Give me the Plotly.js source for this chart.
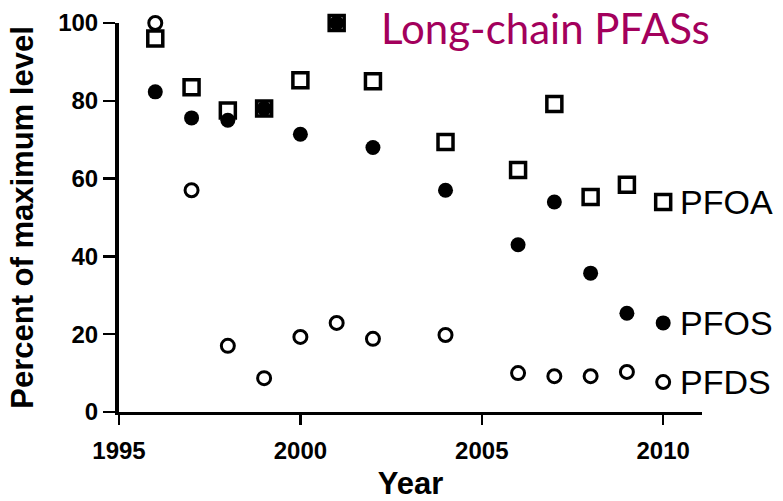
<!DOCTYPE html>
<html>
<head>
<meta charset="utf-8">
<script src="https://cdn.plot.ly/plotly-3.0.1.min.js"></script>
<style>html,body{margin:0;padding:0;background:#fff;}#chart{width:783px;height:501px;}</style>
</head>
<body>
<div id="chart"></div>
<script>
// Data
const yearsPFOA = [1996, 1997, 1998, 1999, 2000, 2001, 2002, 2004, 2006, 2007, 2008, 2009, 2010];
const pfoa      = [96,   83.5, 77.5, 78,   85.3, 100,  85,   69.4, 62.2, 79.2, 55.3, 58.4, 54];
const yearsPFOS = [1996, 1997, 1998, 1999, 2000, 2001, 2002, 2004, 2006, 2007, 2008, 2009, 2010];
const pfos      = [82.3, 75.6, 75,   78,   71.4, 100,  68,   57,   43,   54,   35.7, 25.4, 22.9];
const yearsPFDS = [1996, 1997, 1998, 1999, 2000, 2001, 2002, 2004, 2006, 2007, 2008, 2009, 2010];
const pfds      = [100,  57,   17,   8.7,  19.3, 22.9, 18.8, 19.8, 10,   9.2,  9.2,  10.3, 7.7];
const seriesNames = ['PFOA', 'PFOS', 'PFDS'];
const xTickVals = [1995, 2000, 2005, 2010];
const yTickVals = [0, 20, 40, 60, 80, 100];

const axisFont = {family: 'Arial, "Liberation Sans", sans-serif', size: 24, color: '#000', weight: 'bold'};
const titleFont = {family: 'Arial, "Liberation Sans", sans-serif', size: 31, color: '#000'};

const traces = [
  {x: yearsPFOA, y: pfoa, name: seriesNames[0], type: 'scatter', mode: 'markers', cliponaxis: false,
   marker: {symbol: 'square-open', size: 15, color: '#000', line: {width: 3.5, color: '#000'}}},
  {x: yearsPFOS, y: pfos, name: seriesNames[1], type: 'scatter', mode: 'markers', cliponaxis: false,
   marker: {symbol: 'circle', size: 15, color: '#000', line: {width: 0}}},
  {x: yearsPFDS, y: pfds, name: seriesNames[2], type: 'scatter', mode: 'markers', cliponaxis: false,
   marker: {symbol: 'circle-open', size: 13, color: '#000', line: {width: 3, color: '#000'}}}
];

const lastVals = [pfoa[pfoa.length-1], pfos[pfos.length-1], pfds[pfds.length-1]];
const lastYear = yearsPFOA[yearsPFOA.length-1];
const annotations = seriesNames.map((n, i) => ({
  x: lastYear, y: lastVals[i], xref: 'x', yref: 'y', text: n, showarrow: false,
  xanchor: 'left', yanchor: 'middle', xshift: 15, yshift: 0,
  font: {family: 'Arial, "Liberation Sans", sans-serif', size: 34, color: '#000'}
}));

const layout = {
  width: 783, height: 501,
  margin: {l: 119, r: 81, t: 23, b: 89},
  paper_bgcolor: '#fff', plot_bgcolor: '#fff',
  showlegend: false,
  title: {
    text: 'Long-chain PFASs',
    font: {family: 'Lato, "Open Sans", sans-serif', size: 42, color: '#A3005C'},
    xref: 'container', yref: 'container', x: 381/783, xanchor: 'left', y: 1 - 29/501, yanchor: 'middle'
  },
  xaxis: {
    range: [1995, 2011.07], tickvals: xTickVals, ticktext: xTickVals.map(String),
    showgrid: false, zeroline: false, showline: true, linewidth: 2.5, linecolor: '#000',
    ticks: 'outside', ticklen: 10, tickwidth: 2.5, tickcolor: '#000',
    tickfont: axisFont, ticklabelstandoff: 6,
    title: {text: '<b>Year</b>', font: titleFont, standoff: 10}
  },
  yaxis: {
    range: [0, 100], tickvals: yTickVals, ticktext: yTickVals.map(String),
    showgrid: false, zeroline: false, showline: true, linewidth: 4, linecolor: '#000',
    ticks: 'outside', ticklen: 12, tickwidth: 2.5, tickcolor: '#000',
    tickfont: axisFont,
    title: {text: '<b>Percent of maximum level</b>', font: titleFont, standoff: 16}
  },
  annotations: annotations
};

Plotly.newPlot('chart', traces, layout, {displayModeBar: false, staticPlot: true});
</script>
</body>
</html>
